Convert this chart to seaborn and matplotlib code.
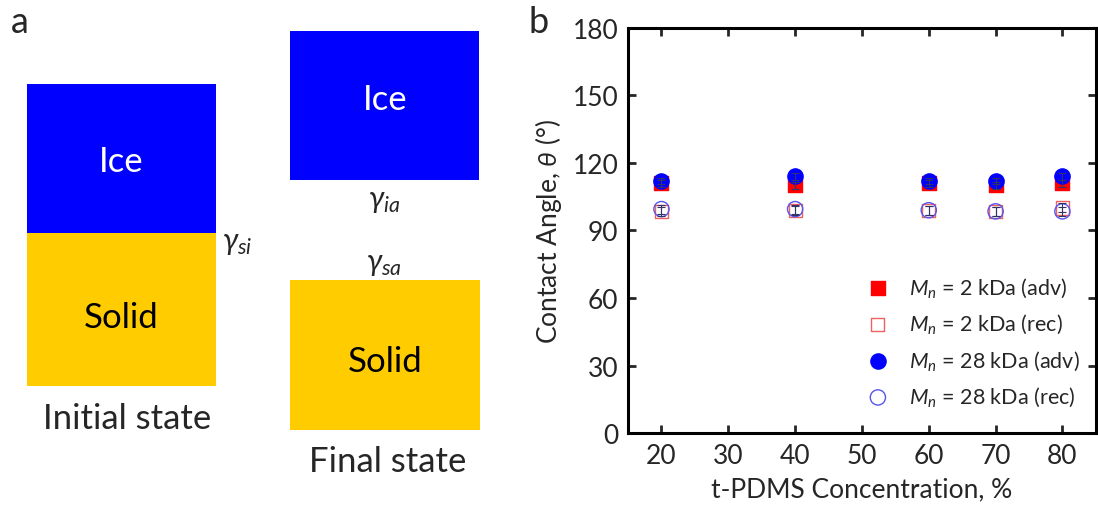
import numpy as np
import pandas as pd
import matplotlib
matplotlib.use("Agg")
import matplotlib.pyplot as plt
import seaborn as sns
from matplotlib.patches import Rectangle

# ---- data ----
conc = [20, 40, 60, 70, 80]
adv_2k = [111, 110, 111, 110, 111]
adv_28k = [112, 114, 112, 112, 114]
rec_2k = [98.5, 99, 99, 98.5, 100]
rec_28k = [99.5, 99.5, 99, 98.5, 98.5]
err_adv_2k = [1.5, 1.5, 1.5, 1.5, 1.5]
err_adv_28k = [1.5, 1.5, 1.5, 1.5, 1.5]
err_rec_2k = [2, 2, 2, 2, 2]
err_rec_28k = [2, 2, 2, 2, 2]
series_labels = [r"$M_n$ = 2 kDa (adv)", r"$M_n$ = 2 kDa (rec)",
                 r"$M_n$ = 28 kDa (adv)", r"$M_n$ = 28 kDa (rec)"]
yticks = [0, 30, 60, 90, 120, 150, 180]
xticks = [20, 30, 40, 50, 60, 70, 80]

sns.set_theme(style="ticks")
plt.rcParams['font.family'] = ['Lato', 'DejaVu Sans']
plt.rcParams['mathtext.fontset'] = 'custom'
plt.rcParams['mathtext.rm'] = 'Lato'
plt.rcParams['mathtext.it'] = 'Lato:italic'

fig = plt.figure(figsize=(10.98, 5.06), dpi=100)

# ---- panel a (schematic) ----
ax0 = fig.add_axes([0, 0, 0.5, 1])
ax0.set_xlim(0, 549)
ax0.set_ylim(506, 0)
ax0.axis('off')
blue = '#0000FF'
gold = '#FFCC00'
ax0.add_patch(Rectangle((27, 85), 189, 149, color=blue, lw=0))
ax0.add_patch(Rectangle((27, 234), 189, 153, color=gold, lw=0))
ax0.add_patch(Rectangle((290, 32), 189, 149, color=blue, lw=0))
ax0.add_patch(Rectangle((290, 281), 190, 150, color=gold, lw=0))
fs = 25
ax0.text(121, 162, "Ice", color='white', fontsize=fs, ha='center', va='center')
ax0.text(121, 318, "Solid", color='black', fontsize=fs, ha='center', va='center')
ax0.text(385, 100, "Ice", color='white', fontsize=fs, ha='center', va='center')
ax0.text(385, 362, "Solid", color='black', fontsize=fs, ha='center', va='center')
ax0.text(127, 419, "Initial state", fontsize=fs, ha='center', va='center')
ax0.text(388, 462, "Final state", fontsize=fs, ha='center', va='center')
ax0.text(237, 243, r"$\gamma_{si}$", fontsize=22, ha='center', va='center')
ax0.text(384, 201, r"$\gamma_{ia}$", fontsize=22, ha='center', va='center')
ax0.text(384, 264, r"$\gamma_{sa}$", fontsize=22, ha='center', va='center')
ax0.text(20, 22, "a", fontsize=26, ha='center', va='center')
ax0.text(539, 22, "b", fontsize=26, ha='center', va='center')

# ---- panel b ----
ax = fig.add_axes([0.572, 0.142, 0.426, 0.801])
df = pd.DataFrame({
    'conc': conc * 4,
    'angle': adv_2k + rec_2k + adv_28k + rec_28k,
    'series': sum([[s] * len(conc) for s in series_labels], []),
})
styles = [
    dict(marker='s', s=90, facecolor='#FF0000', edgecolor='#FF0000'),
    dict(marker='s', s=90, facecolor='none', edgecolor='#F06060'),
    dict(marker='o', s=120, facecolor='#0000FF', edgecolor='#0000FF'),
    dict(marker='o', s=120, facecolor='none', edgecolor='#5555EE'),
]
errs = [err_adv_2k, err_rec_2k, err_adv_28k, err_rec_28k]
vals = [adv_2k, rec_2k, adv_28k, rec_28k]
for lab, st, e, v in zip(series_labels, styles, errs, vals):
    sub = df[df['series'] == lab]
    sns.scatterplot(data=sub, x='conc', y='angle', ax=ax, marker=st['marker'], s=st['s'],
                    facecolor=st['facecolor'], edgecolor=st['edgecolor'], linewidth=1,
                    label=lab, zorder=3)
    ax.errorbar(conc, v, yerr=e, fmt='none', ecolor='#333366', elinewidth=0.8,
                capsize=3, capthick=0.8, zorder=4)

ax.set_xlim(15, 85)
ax.set_ylim(0, 180)
ax.set_xticks(xticks)
ax.set_yticks(yticks)
ax.tick_params(direction='in', top=True, right=True, length=6, width=2,
               labelsize=19, pad=7)
for sp in ax.spines.values():
    sp.set_linewidth(2.2)
    sp.set_color('black')
ax.set_xlabel("t-PDMS Concentration, %", fontsize=19, labelpad=6)
ax.set_ylabel(r"Contact Angle, $\theta$ (°)", fontsize=19, labelpad=6)
leg = ax.legend(loc='lower right', frameon=False, fontsize=15.5, handletextpad=0.95,
                handlelength=1.0, labelspacing=0.6, borderaxespad=0.6,
                bbox_to_anchor=(1.012, 0.008))
fig.savefig("out.png", dpi=100)
